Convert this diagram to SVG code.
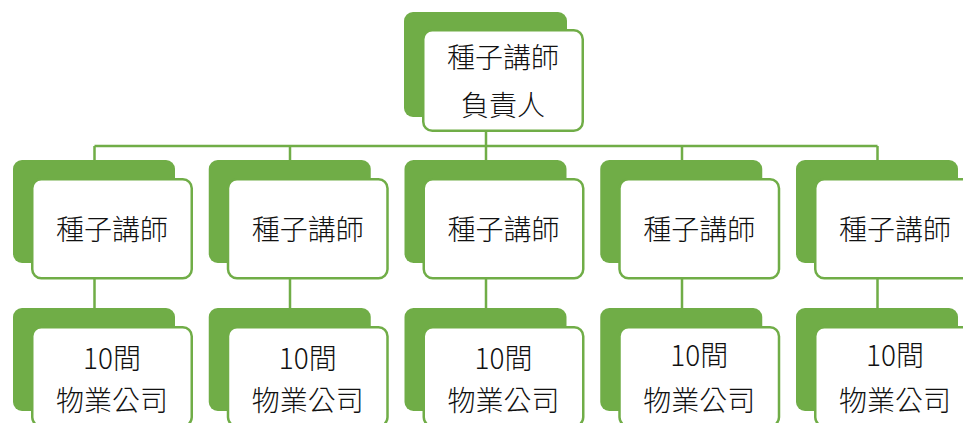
<svg xmlns="http://www.w3.org/2000/svg" width="963" height="423" viewBox="0 0 963 423">
<style>
.bk{fill:#70AD47;}
.fr{fill:#fff;stroke:#70AD47;stroke-width:2.5;}
.ln{fill:none;stroke:#70AD47;stroke-width:2.5;}
.t{font-family:"Noto Sans CJK TC","Noto Sans CJK SC",sans-serif;font-size:28px;font-weight:300;fill:#111;text-anchor:middle;}
</style>
<rect width="963" height="423" fill="#fff"/>
<g id="connectors">
<path class="ln" d="M486,132V146M94.5,146H877.5M94.5,146V160M290,146V160M486,146V160M682,146V160M877.5,146V160"/>
<path class="ln" d="M94.5,279V308M290,279V308M486,279V308M682,279V308M877.5,279V308"/>
</g>
<g id="top">
<rect class="bk" x="404" y="12" width="163" height="105" rx="9"/>
<rect class="fr" x="423.25" y="30.25" width="159.5" height="100.5" rx="9"/>
<text class="t" x="503" y="68">種子講師</text>
<text class="t" x="503" y="116">負責人</text>
</g>
<g id="seed1">
<rect class="bk" x="13" y="160" width="162" height="103" rx="9"/>
<rect class="fr" x="32.25" y="179.25" width="159.5" height="99" rx="9"/>
<text class="t" x="112" y="240">種子講師</text>
</g>
<g id="seed2">
<rect class="bk" x="208.75" y="160" width="162" height="103" rx="9"/>
<rect class="fr" x="228" y="179.25" width="159.5" height="99" rx="9"/>
<text class="t" x="307.75" y="240">種子講師</text>
</g>
<g id="seed3">
<rect class="bk" x="404.5" y="160" width="162" height="103" rx="9"/>
<rect class="fr" x="423.75" y="179.25" width="159.5" height="99" rx="9"/>
<text class="t" x="503.5" y="240">種子講師</text>
</g>
<g id="seed4">
<rect class="bk" x="600.25" y="160" width="162" height="103" rx="9"/>
<rect class="fr" x="619.5" y="179.25" width="159.5" height="99" rx="9"/>
<text class="t" x="699.25" y="240">種子講師</text>
</g>
<g id="seed5">
<rect class="bk" x="796" y="160" width="162" height="103" rx="9"/>
<rect class="fr" x="815.25" y="179.25" width="159.5" height="99" rx="9"/>
<text class="t" x="895" y="240">種子講師</text>
</g>
<g id="co1">
<rect class="bk" x="13" y="308" width="162" height="103" rx="9"/>
<rect class="fr" x="32.25" y="327.25" width="159.5" height="99" rx="9"/>
<text class="t" x="112" y="369">10間</text>
<text class="t" x="112" y="411">物業公司</text>
</g>
<g id="co2">
<rect class="bk" x="208.75" y="308" width="162" height="103" rx="9"/>
<rect class="fr" x="228" y="327.25" width="159.5" height="99" rx="9"/>
<text class="t" x="307.75" y="369">10間</text>
<text class="t" x="307.75" y="411">物業公司</text>
</g>
<g id="co3">
<rect class="bk" x="404.5" y="308" width="162" height="103" rx="9"/>
<rect class="fr" x="423.75" y="327.25" width="159.5" height="99" rx="9"/>
<text class="t" x="503.5" y="369">10間</text>
<text class="t" x="503.5" y="411">物業公司</text>
</g>
<g id="co4">
<rect class="bk" x="600.25" y="308" width="162" height="103" rx="9"/>
<rect class="fr" x="619.5" y="327.25" width="159.5" height="99" rx="9"/>
<text class="t" x="699.25" y="366">10間</text>
<text class="t" x="699.25" y="411">物業公司</text>
</g>
<g id="co5">
<rect class="bk" x="796" y="308" width="162" height="103" rx="9"/>
<rect class="fr" x="815.25" y="327.25" width="159.5" height="99" rx="9"/>
<text class="t" x="895" y="366">10間</text>
<text class="t" x="895" y="411">物業公司</text>
</g>
</svg>
